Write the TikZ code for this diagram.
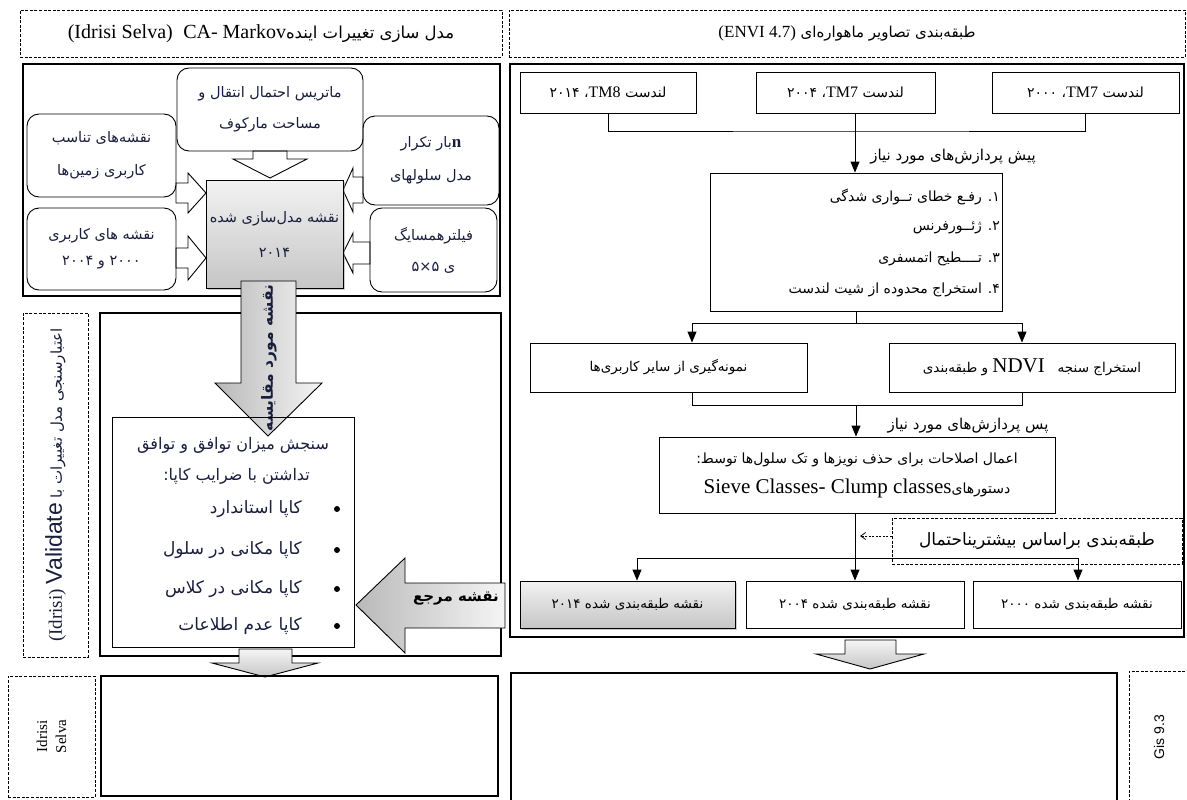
\documentclass[tikz,border=0pt]{standalone}
\usepackage{fontspec}
\setmainfont{Liberation Serif}
\newfontfamily\fa[Script=Arabic]{DejaVu Sans}
\newfontfamily\arialf{Liberation Sans}
\TeXXeTstate=1
\usetikzlibrary{arrows.meta,shadows}
\definecolor{ink}{RGB}{25,30,60}
\newcommand\faR[1]{{\fa\beginR #1\endR}}
\newcommand\laT[2][14]{\beginL{\rmfamily\fontsize{#1}{#1}\selectfont #2}\endL{}}
\newcommand\fsz[1]{\fa\fontsize{#1}{#1}\selectfont}
\tikzset{
  txt/.style={inner sep=0pt, font=\fsz{14}},
  box/.style={draw, line width=0.9pt, inner sep=2pt, align=center, font=\fsz{13.5}},
  rbox/.style={box, rounded corners=12pt, text=ink},
  lsk/.style={font=\fa\fontsize{14.5}{#1}\selectfont},
  dbox/.style={draw, line width=0.8pt, dash pattern=on 3pt off 1.6pt, align=center},
  panel/.style={draw, line width=1.1pt},
  conn/.style={line width=0.9pt},
  arr/.style={conn, -{Triangle[length=11pt,width=9pt]}},
  warrow/.style={draw, fill=white, line width=0.9pt, line join=miter},
  garrow/.style={draw, line width=0.9pt, left color=gray!55, right color=gray!8},
  varrow/.style={draw, line width=0.9pt, top color=gray!8, bottom color=gray!45},
  graybox/.style={box, top color=gray!10, bottom color=gray!45,
     drop shadow={shadow xshift=2pt, shadow yshift=-2pt, fill=gray!80}},
}
\begin{document}
\begin{tikzpicture}[x=1pt,y=-1pt]
\useasboundingbox (0,0) rectangle (1187,800);

% ---------- headers
\node[dbox, minimum width=482pt, minimum height=47pt, font=\fsz{16.5}] (hL) at (261,33.5)
  {\faR{مدل سازی تغییرات اینده\laT[20]{CA- Markov}\ \ \laT[20]{(Idrisi Selva)}}};
\node[dbox, minimum width=676pt, minimum height=47pt, font=\fsz{15}] (hR) at (847,33.5)
  {\faR{طبقه‌بندی تصاویر ماهواره‌ای \laT[17]{(ENVI 4.7)}}};

% ---------- panels
\node[panel, minimum width=477pt, minimum height=232pt] (pL) at (261.5,180) {};
\node[panel, minimum width=401pt, minimum height=343pt] (pV) at (300.5,484.5) {};
\node[panel, minimum width=674pt, minimum height=573pt] (pR) at (847,350.5) {};
\node[dbox, minimum width=65pt, minimum height=344pt] (vd) at (55.5,485) {};
\node[rotate=90, inner sep=0pt, font=\fsz{15}, text=ink] (vdt) at (vd.center)
  {\faR{اعتبارسنجی مدل تغییرات با \laT[23]{\arialf Validate}\ \laT[19]{(Idrisi)}}};

% ---------- top-left block arrows
\draw[warrow] (253,151) -- (253,159) -- (233,159) -- (270,178) -- (307,159) -- (287,159) -- (287,151) -- cycle;
\draw[warrow] (176,183) -- (188,183) -- (188,173) -- (206,193) -- (188,213) -- (188,203) -- (176,203) -- cycle;
\draw[warrow] (176,248) -- (188,248) -- (188,236) -- (206,258) -- (188,280) -- (188,268) -- (176,268) -- cycle;
\draw[warrow] (363,177) -- (353,177) -- (353,168) -- (343,190) -- (353,212) -- (353,203) -- (363,203) -- cycle;
\draw[warrow] (370,242) -- (353,242) -- (353,233) -- (343,253) -- (353,273) -- (353,264) -- (370,264) -- cycle;

% ---------- top-left boxes
\node[rbox, lsk=31, minimum width=186pt, minimum height=83pt] (mk) at (270,109.5)
  {\faR{ماتریس احتمال انتقال و}\\ \faR{مساحت مارکوف}};
\node[rbox, lsk=33, minimum width=149pt, minimum height=83pt] (s1) at (101.5,155.5)
  {\faR{نقشه‌های  تناسب}\\ \faR{کاربری زمین‌ها}};
\node[rbox, lsk=26, minimum width=149pt, minimum height=82pt] (s2) at (101.5,249)
  {\faR{نقشه های کاربری}\\ \faR{۲۰۰۰ و ۲۰۰۴}};
\node[rbox, lsk=33, minimum width=136pt, minimum height=89pt] (r1) at (431,160.5)
  {\faR{\laT[17]{\bfseries n}بار تکرار}\\ \faR{مدل سلولهای}};
\node[rbox, lsk=31, minimum width=127pt, minimum height=84pt] (r2) at (433.5,250)
  {\faR{فیلترهمسایگ}\\ \faR{ی ۵×۵}};
\node[graybox, lsk=35, text=ink, minimum width=137pt, minimum height=108pt] (cm) at (274.5,234)
  {\faR{نقشه مدل‌سازی شده}\\ \faR{۲۰۱۴}};

% ---------- gray arrow down (compared map)
\draw[garrow] (241,281) -- (241,383) -- (215,383) -- (268,436) -- (322,383) -- (296,383) -- (296,281) -- cycle;
\node[rotate=90, inner sep=0pt, text=ink, font=\fa\bfseries\fontsize{15.5}{17}\selectfont] (gAt) at (269,358)
  {\faR{نقشه مورد مقایسه}};

% ---------- kappa box
\node[box, minimum width=242pt, minimum height=230pt] (kb) at (233,532) {};
\node[txt, text=ink, font=\fsz{16}] (k0) at (233,445) {\faR{سنجش میزان توافق و توافق}};
\node[txt, text=ink, anchor=east, font=\fsz{16}] (k1) at (310,476) {\faR{تداشتن با ضرایب کاپا:}};
\node[txt, text=ink, anchor=east, font=\fsz{17}] (k2) at (302,509) {\faR{کاپا استاندارد}};
\node[txt, text=ink, anchor=east, font=\fsz{17}] (k3) at (302,550) {\faR{کاپا مکانی در سلول}};
\node[txt, text=ink, anchor=east, font=\fsz{17}] (k4) at (302,589) {\faR{کاپا مکانی در کلاس}};
\node[txt, text=ink, anchor=east, font=\fsz{17}] (k5) at (302,626) {\faR{کاپا عدم اطلاعات}};
\fill (337,509) circle (3pt) (337,550) circle (3pt) (337,589) circle (3pt) (337,626) circle (3pt);

% ---------- gray arrow left (reference map)
\draw[garrow] (505,583) -- (405,583) -- (405,558) -- (356,605) -- (405,653) -- (405,628) -- (505,628) -- cycle;
\node[txt, font=\fa\bfseries\fontsize{15}{17}\selectfont] (gBt) at (456,599) {\faR{نقشه مرجع}};

% ---------- right panel boxes
\node[box, font=\fsz{14}, minimum width=176pt, minimum height=41pt] (A) at (608,92.5) {\faR{لندست \laT[16]{TM8}، ۲۰۱۴}};
\node[box, font=\fsz{14}, minimum width=179pt, minimum height=41pt] (B) at (845.5,92.5) {\faR{لندست \laT[16]{TM7}، ۲۰۰۴}};
\node[box, font=\fsz{14}, minimum width=187pt, minimum height=41pt] (C) at (1085.5,92.5) {\faR{لندست \laT[16]{TM7}، ۲۰۰۰}};
\node[box, minimum width=292pt, minimum height=138pt] (D) at (856,242) {};
\node[txt, anchor=east] (d1) at (1000,197) {\faR{۱. رفـع خطای تــواری شدگی}};
\node[txt, anchor=east] (d2) at (1000,228) {\faR{۲. ژئــورفرنس}};
\node[txt, anchor=east] (d3) at (1000,259) {\faR{۳. تــــطیح اتمسفری}};
\node[txt, anchor=east] (d4) at (1000,290) {\faR{۴. استخراج محدوده از شیت لندست}};
\node[box, minimum width=277pt, minimum height=49pt] (E) at (668.5,367.5) {\faR{نمونه‌گیری از سایر کاربری‌ها}};
\node[box, minimum width=286pt, minimum height=49pt] (F) at (1032,367.5) {\faR{استخراج سنجه\ \ \ \laT[21]{NDVI} و طبقه‌بندی}};
\node[box, font=\fa\fontsize{14}{30}\selectfont, minimum width=396pt, minimum height=76pt] (G) at (857,475)
  {\faR{اعمال اصلاحات برای حذف نویزها و تک سلول‌ها توسط:}\\ \faR{دستورهای\laT[21]{Sieve Classes- Clump classes}}};
\node[dbox, minimum width=290pt, minimum height=46pt, font=\fsz{17}] (M) at (1037,541)
  {\faR{طبقه‌بندی براساس بیشتریناحتمال}};
\node[graybox, minimum width=215pt, minimum height=47pt] (H) at (627.5,604.5) {\faR{نقشه طبقه‌بندی شده ۲۰۱۴}};
\node[box, minimum width=218pt, minimum height=47pt] (I) at (855,604.5) {\faR{نقشه طبقه‌بندی شده ۲۰۰۴}};
\node[box, minimum width=208pt, minimum height=47pt] (J) at (1077,604.5) {\faR{نقشه طبقه‌بندی شده ۲۰۰۰}};

% ---------- right panel connectors
\coordinate (j1) at (855,131);
\draw[conn] (A.south) |- (j1) -| (C.south);
\draw[arr] (B.south -| j1) -- (j1 |- D.north);
\node[txt, font=\fsz{15}] (lab1) at (953,157) {\faR{پیش پردازش‌های مورد نیاز}};
\coordinate (k1) at (692,323);
\coordinate (k2) at (1022,323);
\draw[conn] (D.south) -- (D.south |- k1);
\draw[conn] (k1) -- (k2);
\draw[arr] (k1) -- (k1 |- E.north);
\draw[arr] (k2) -- (k2 |- F.north);
\coordinate (k3) at (692,405);
\coordinate (k4) at (1022,405);
\draw[conn] (k3 |- E.south) -- (k3) -- (k4) -- (k4 |- F.south);
\draw[arr] (D.south |- k3) -- (D.south |- G.north);
\node[txt, font=\fsz{15}] (lab2) at (968,426) {\faR{پس پردازش‌های مورد نیاز}};
\draw[arr] (G.south -| I.north) -- (I.north);
\coordinate (k5) at (637,558);
\coordinate (k6) at (1078,558);
\draw[conn] (k5) -- (k6);
\draw[arr] (k5) -- (k5 |- H.north);
\draw[arr] (k6) -- (k6 |- J.north);
\coordinate (m2) at (860,536);
\draw[line width=0.8pt, dash pattern=on 2pt off 1.5pt, -{Straight Barb[length=5pt,width=7pt]}] (M.west |- m2) -- (m2);

% ---------- arrows to bottom
\draw[varrow] (239,649) -- (239,663) -- (212,663) -- (265,677) -- (318,663) -- (292,663) -- (292,649) -- cycle;
\draw[varrow] (845,640) -- (845,654) -- (816,654) -- (870,669) -- (924,654) -- (896,654) -- (896,640) -- cycle;

% ---------- bottom boxes
\node[dbox, minimum width=87pt, minimum height=121pt] (iS) at (51.5,736.5) {};
\node[rotate=90, align=center, inner sep=0pt, font=\fontsize{15}{19}\selectfont] (iSt) at (iS.center) {Idrisi\\Selva};
\node[panel, minimum width=397pt, minimum height=120pt] (bL) at (299.5,736) {};
\node[panel, minimum width=606pt, minimum height=132pt] (bR) at (814,739) {};
\node[dbox, minimum width=61pt, minimum height=132pt] (gs) at (1159.5,737) {};
\node[rotate=90, inner sep=0pt, font=\arialf\fontsize{14}{16}\selectfont] (gst) at (1159,737) {Gis 9.3};
\end{tikzpicture}
\end{document}
